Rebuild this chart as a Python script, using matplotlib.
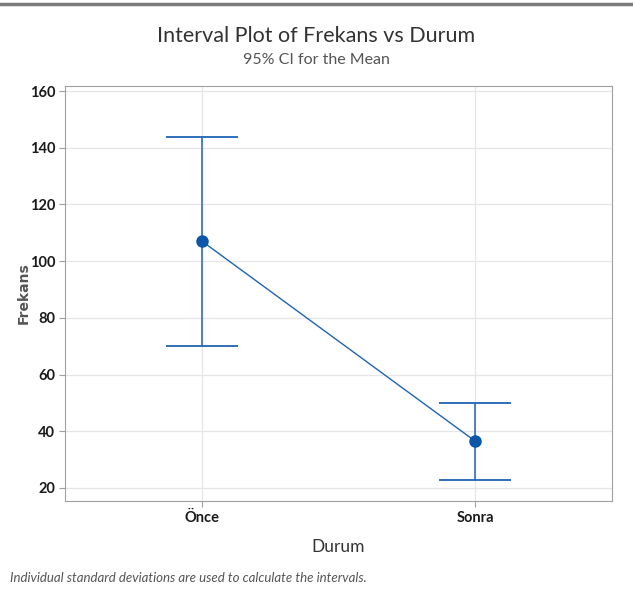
import numpy as np
from matplotlib import pyplot as plt
from matplotlib.lines import Line2D

groups = ["Önce", "Sonra"]
means = [107.1, 36.5]
ci_low = [70.1, 22.8]
ci_high = [143.8, 50.0]
yticks = [20, 40, 60, 80, 100, 120, 140, 160]

plt.rcParams['font.family'] = ['Lato', 'DejaVu Sans']

blue = "#1f64b4"
fig = plt.figure(figsize=(6.33, 5.92), dpi=100)
ax = fig.add_axes([65 / 633, 1 - 501 / 592, 547 / 633, 415 / 592])

x = np.arange(len(groups))
means = np.array(means)
err = [means - np.array(ci_low), np.array(ci_high) - means]
ax.errorbar(x, means, yerr=err, fmt="none", ecolor=blue, elinewidth=1.1,
            capsize=26, capthick=1.3, zorder=3)
ax.plot(x, means, color=blue, lw=1.0, zorder=3)
ax.plot(x, means, "o", color="#0b56a8", ms=8, zorder=4)

ax.set_xlim(-0.5, 1.5)
ax.set_ylim(15.4, 161.8)
ax.set_yticks(yticks)
ax.set_xticks(x)
ax.set_xticklabels(groups)
ax.grid(True, color="#e6e6e6", lw=0.9, zorder=0)
ax.set_axisbelow(True)
for s in ax.spines.values():
    s.set_color("#a0a0a0")
ax.tick_params(colors="#a0a0a0", labelcolor="#1a1a1a", labelsize=10.5,
               length=4, pad=3)
for lbl in ax.get_xticklabels() + ax.get_yticklabels():
    lbl.set_fontweight("bold")

ax.set_xlabel("Durum", fontsize=12.5, color="#333333", labelpad=10)
ax.set_ylabel("Frekans", fontsize=10, color="#555555", fontweight="bold",
              family="DejaVu Sans")
ax.yaxis.set_label_coords(-34 / 547, 0.5)

fig.text(0.5, 1 - 36 / 592, "Interval Plot of Frekans vs Durum", ha="center",
         va="center", fontsize=15.5, color="#333333")
fig.text(0.5, 1 - 60 / 592, "95% CI for the Mean", ha="center", va="center",
         fontsize=11.5, color="#555555")
fig.text(10 / 633, 1 - 578 / 592,
         "Individual standard deviations are used to calculate the intervals.",
         ha="left", va="center", fontsize=9.5, style="italic", color="#555555")

fig.add_artist(Line2D([0, 1], [1 - 4 / 592] * 2, color="#7a7a7a", lw=2.5,
                      transform=fig.transFigure))

plt.savefig("out.png", dpi=100)
